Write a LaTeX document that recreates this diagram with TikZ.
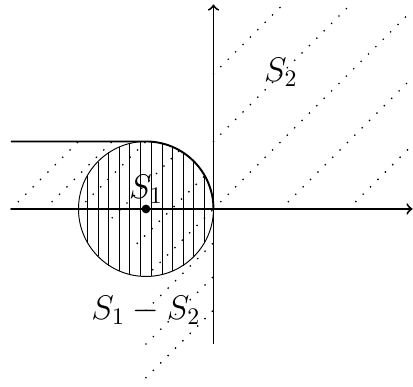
\documentclass[tikz,border=0pt]{standalone}

\begin{document}
\begin{tikzpicture}[>=to, axis/.style={thick,->}, bound/.style={thick},
    hatch/.style={thin}, dotline/.style={line width=0.8pt, line cap=round, dash pattern=on 0pt off 4.4pt}]
  \useasboundingbox (-3.163,-2.637) rectangle (2.956,3.096);
  \coordinate (O) at (0,0);
  \coordinate (C) at (-1,0);
  % S2: first quadrant
  \draw[dotline] (0,2) -- (1.02,3.02);
  \draw[dotline] (0,1) -- (2.02,3.02);
  \draw[dotline] (O) -- (2.95,2.95);
  \draw[dotline] (1,0) -- (2.95,1.95);
  \draw[dotline] (2,0) -- (2.95,0.95);
  % strip left of the disc
  \draw[dotline] (-3,0) -- (-2,1);
  \draw[dotline] (-2.5,0) -- (-1.5,1);
  \draw[dotline] (-2,0) -- (-1,1);
  % inside the disc
  \draw[dotline] (-1.5,-0.13) -- (-0.5,0.87);
  \draw[dotline] (-1.13,-0.51) -- (-0.13,0.49);
  \draw[dotline] (-0.9,-0.9) -- (O);
  % below the disc
  \draw[dotline] (-1,-1.5) -- (0,-0.5);
  \draw[dotline] (-1,-2) -- (0,-1);
  \draw[dotline] (-1,-2.5) -- (0,-1.5);
  % disc S1, hatched
  \draw[hatch] (C) circle (1);
  \draw[hatch] (-1.86,-0.51) -- (-1.86,0.51);
  \draw[hatch] (-1.71,-0.70) -- (-1.71,0.70);
  \draw[hatch] (-1.55,-0.84) -- (-1.55,0.84);
  \draw[hatch] (-1.39,-0.92) -- (-1.39,0.92);
  \draw[hatch] (-1.24,-0.97) -- (-1.24,0.97);
  \draw[hatch] (-1.08,-1.00) -- (-1.08,1.00);
  \draw[hatch] (-0.92,-1.00) -- (-0.92,1.00);
  \draw[hatch] (-0.76,-0.97) -- (-0.76,0.97);
  \draw[hatch] (-0.61,-0.92) -- (-0.61,0.92);
  \draw[hatch] (-0.45,-0.84) -- (-0.45,0.84);
  \draw[hatch] (-0.29,-0.70) -- (-0.29,0.70);
  \draw[hatch] (-0.14,-0.51) -- (-0.14,0.51);
  % axes
  \draw[axis] (-3,0) -- (2.95,0);
  \draw[axis] (0,-2) -- (0,3.03);
  % boundary
  \draw[bound] (-3,1) -- (-1,1) arc[start angle=90, end angle=0, radius=1];
  \fill (C) circle (0.065);
  \node (s1) at (-1,0.29) {\Large $S_1$};
  \node (s2) at (1,2.02) {\Large $S_2$};
  \node (s12) at (-1,-1.5) {\Large $S_1 - S_2$};
\end{tikzpicture}
\end{document}
